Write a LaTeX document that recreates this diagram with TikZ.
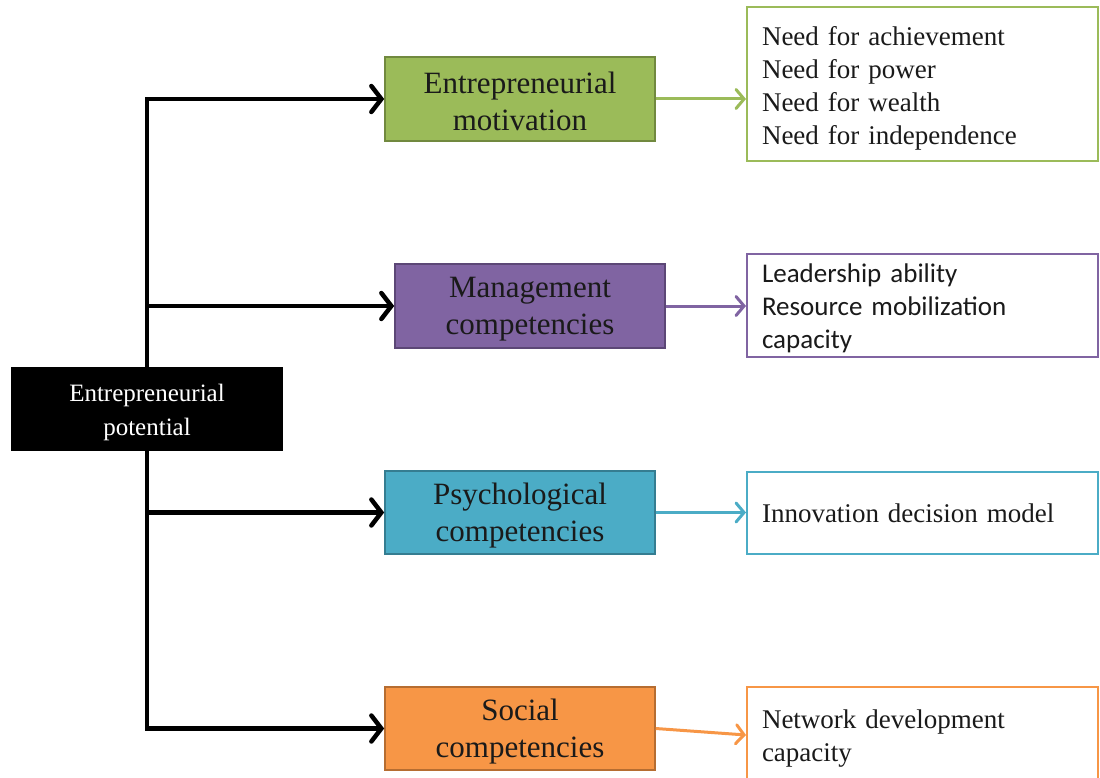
\documentclass[tikz,border=0pt]{standalone}
\usepackage{fontspec}
\setmainfont{Liberation Serif}
\newfontfamily\sansf{Carlito}
\usetikzlibrary{arrows.meta}

\definecolor{gfill}{HTML}{9BBB59}
\definecolor{gline}{HTML}{71893F}
\definecolor{pfill}{HTML}{8064A2}
\definecolor{pline}{HTML}{5C4776}
\definecolor{tfill}{HTML}{4BACC6}
\definecolor{tline}{HTML}{357D91}
\definecolor{ofill}{HTML}{F79646}
\definecolor{oline}{HTML}{B66D31}
\definecolor{ink}{HTML}{1A1A1A}

% invisible struts that set the height of a first line
\newcommand{\firstline}[1]{\rule{0pt}{#1}}

\begin{document}
\begin{tikzpicture}[x=1pt,y=-1pt,
  mainbox/.style={draw, line width=1.6pt, minimum width=270pt, minimum height=84pt,
    inner sep=0pt, align=center, text=ink, font=\fontsize{31}{37}\selectfont},
  listbox/.style={draw, line width=2pt, fill=white, minimum width=351pt, inner xsep=15pt,
    inner ysep=0pt, text width=321pt, align=left, text=ink,
    font=\fontsize{27}{33}\selectfont},
  rootbox/.style={fill=black, minimum width=272pt, minimum height=84pt, inner sep=0pt,
    align=center, text=white, font=\fontsize{25}{34}\selectfont},
  blk/.style={line width=4.5pt, line join=miter, -{Straight Barb[length=10pt,width=26pt,line cap=round]}},
  clr/.style={line width=3pt, -{Straight Barb[length=8pt,width=19pt,line cap=round]}}]
\useasboundingbox (0,0) rectangle (1100,778);

% root
\node[rootbox] (ep) at (147,409) {\firstline{25pt}Entrepreneurial\\potential};

% four competence groups
\node[mainbox, fill=gfill, draw=gline] (em) at (520,99) {\firstline{26pt}Entrepreneurial\\motivation};
\node[mainbox, fill=pfill, draw=pline] (mc) at (530,306) {\firstline{27pt}Management\\competencies};
\node[mainbox, fill=tfill, draw=tline, minimum height=83pt] (pc) at (520,512.5) {\firstline{28pt}Psychological\\competencies};
\node[mainbox, fill=ofill, draw=oline, minimum height=83pt] (sc) at (520,728.5) {\firstline{28pt}Social\\competencies};

% detail lists
\node[listbox, draw=gfill, minimum height=154pt] (n1) at (922.5,84)
  {\firstline{27pt}Need for achievement\\Need for power\\Need for wealth\\Need for independence};
\node[listbox, draw=pfill, minimum height=103pt, font=\sansf\fontsize{27}{33}\selectfont] (n2) at (922.5,305.5)
  {\firstline{24pt}Leadership ability\\Resource mobilization\\capacity};
\node[listbox, draw=tfill, minimum height=82pt] (n3) at (922.5,513)
  {Innovation decision model};
\node[listbox, draw=ofill, minimum height=96pt] (n4) at (922.5,735)
  {\firstline{25pt}Network development\\capacity};

% tree connectors
\draw[blk] (ep.north) |- (em.west);
\draw[blk] (ep.north) |- (mc.west);
\draw[blk] (ep.south) |- (pc.west);
\draw[blk] (ep.south) |- (sc.west);

% group to list connectors
\draw[clr, draw=gfill] (em.east) -- (em.east -| n1.west);
\draw[clr, draw=pfill] (mc.east) -- (mc.east -| n2.west);
\draw[clr, draw=tfill] (pc.east) -- (pc.east -| n3.west);
\draw[clr, draw=ofill] (sc.east) -- (n4.west);
\end{tikzpicture}
\end{document}
